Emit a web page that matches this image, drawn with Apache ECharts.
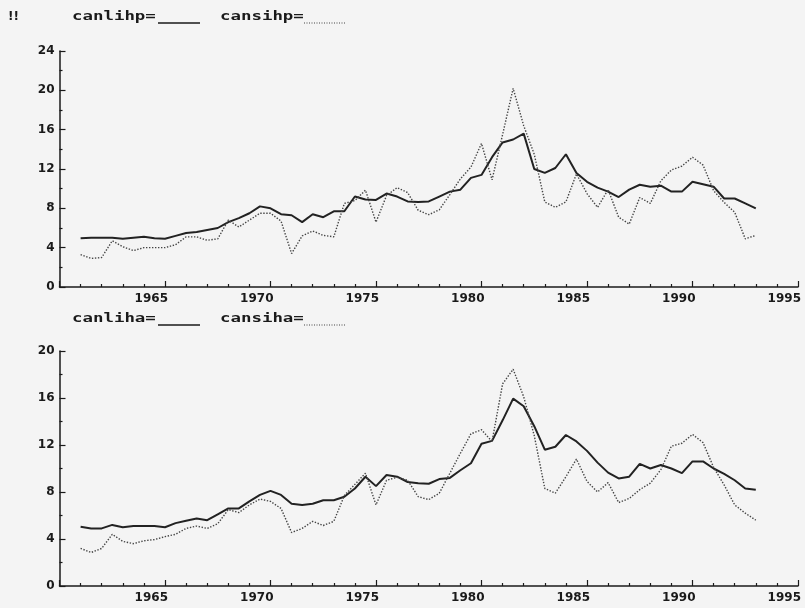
<!DOCTYPE html>
<html>
<head>
<meta charset="utf-8">
<script src="https://cdn.jsdelivr.net/npm/echarts@6/dist/echarts.min.js"></script>
<style>
  html, body { margin: 0; padding: 0; background: #f4f4f4; }
  #chart { width: 805px; height: 608px; }
</style>
</head>
<body>
<div id="chart"></div>
<script>
// half-yearly observations, 1961.0 .. 1993.0
var startYear = 1961;

// top panel
var canlihp = [4.95, 5.0, 5.0, 5.0, 4.9, 5.0, 5.1, 4.95, 4.9, 5.2,
  5.5, 5.6, 5.8, 6.0, 6.6, 7.0, 7.5, 8.2, 8.0, 7.4,
  7.3, 6.6, 7.4, 7.1, 7.7, 7.7, 9.2, 8.9, 8.85, 9.5,
  9.2, 8.7, 8.65, 8.7, 9.2, 9.7, 9.9, 11.1, 11.4, 13.2,
  14.7, 15.0, 15.6, 12.0, 11.6, 12.1, 13.5, 11.6, 10.7, 10.1,
  9.7, 9.15, 9.9, 10.4, 10.2, 10.3, 9.7, 9.7, 10.7, 10.45,
  10.2, 9.0, 9.0, 8.5, 8.0];
var cansihp = [3.3, 2.9, 3.0, 4.7, 4.1, 3.7, 4.0, 4.0, 4.0, 4.3,
  5.1, 5.1, 4.75, 4.9, 6.8, 6.1, 6.8, 7.5, 7.5, 6.7,
  3.4, 5.2, 5.7, 5.25, 5.1, 8.5, 8.8, 9.85, 6.6, 9.3,
  10.1, 9.6, 7.8, 7.35, 7.85, 9.4, 11.0, 12.2, 14.6, 10.9,
  15.5, 20.2, 16.4, 13.5, 8.65, 8.1, 8.65, 11.5, 9.5, 8.1,
  9.9, 7.1, 6.4, 9.1, 8.5, 10.8, 11.9, 12.3, 13.2, 12.4,
  9.8, 8.6, 7.6, 4.9, 5.25];

// bottom panel
var canliha = [5.05, 4.9, 4.9, 5.2, 5.0, 5.1, 5.1, 5.1, 5.0, 5.35,
  5.55, 5.75, 5.6, 6.1, 6.6, 6.6, 7.2, 7.75, 8.1, 7.75,
  7.0, 6.9, 7.0, 7.3, 7.3, 7.6, 8.3, 9.3, 8.5, 9.45,
  9.3, 8.85, 8.75, 8.7, 9.1, 9.2, 9.85, 10.45, 12.1, 12.35,
  14.1, 15.95, 15.3, 13.6, 11.6, 11.85, 12.85, 12.3, 11.5, 10.5,
  9.65, 9.15, 9.3, 10.4, 10.0, 10.3, 10.0, 9.6, 10.6, 10.6,
  10.0, 9.55, 9.0, 8.3, 8.2];
var cansiha = [3.2, 2.85, 3.2, 4.4, 3.8, 3.6, 3.85, 3.95, 4.2, 4.4,
  4.9, 5.1, 4.9, 5.3, 6.5, 6.25, 6.9, 7.4, 7.2, 6.6,
  4.55, 4.9, 5.5, 5.15, 5.5, 7.7, 8.65, 9.6, 6.9, 9.0,
  9.25, 9.0, 7.6, 7.35, 7.9, 9.6, 11.3, 12.95, 13.3, 12.3,
  17.2, 18.45, 16.1, 12.8, 8.3, 7.9, 9.3, 10.8, 8.9, 8.0,
  8.8, 7.1, 7.45, 8.2, 8.75, 9.9, 11.9, 12.15, 12.9, 12.2,
  10.1, 8.6, 6.9, 6.2, 5.6];

var yMaxTop = 24, yMaxBottom = 20, yStep = 4;
var xMin = 1960, xMax = 1995, xStep = 5;

function pairs(vals) {
  return vals.map(function (v, i) { return [startYear + i / 2, v]; });
}

var ink = '#1a1a1a';
var labelFont = { color: ink, fontFamily: 'DejaVu Sans', fontWeight: 'bold', fontSize: 12 };

function xAxisFor(idx) {
  return {
    type: 'value', gridIndex: idx, min: xMin, max: xMax, interval: xStep,
    axisLine: { lineStyle: { color: ink, width: 1.5 } },
    axisTick: { inside: true, length: 6, lineStyle: { color: ink, width: 1.2 } },
    minorTick: { show: true, splitNumber: 5, length: 3, lineStyle: { color: ink, width: 1.2 } },
    splitLine: { show: false },
    axisLabel: Object.assign({
      margin: 6, showMinLabel: false, align: 'right', padding: [0, -3, 0, 0],
      formatter: function (v) { return String(v); }
    }, labelFont)
  };
}
function yAxisFor(idx, max) {
  return {
    type: 'value', gridIndex: idx, min: 0, max: max, interval: yStep,
    axisLine: { show: true, lineStyle: { color: ink, width: 1.5 } },
    axisTick: { show: true, inside: true, length: 6, lineStyle: { color: ink, width: 1.2 } },
    minorTick: { show: true, splitNumber: 2, length: 3, lineStyle: { color: ink, width: 1.2 } },
    splitLine: { show: false },
    axisLabel: Object.assign({ margin: 5 }, labelFont)
  };
}
function solid(name, vals, idx) {
  return {
    name: name, type: 'line', xAxisIndex: idx, yAxisIndex: idx,
    data: pairs(vals), showSymbol: false, animation: false,
    lineStyle: { color: '#222', width: 2 }
  };
}
function dotted(name, vals, idx) {
  return {
    name: name, type: 'line', xAxisIndex: idx, yAxisIndex: idx,
    data: pairs(vals), showSymbol: false, animation: false,
    lineStyle: { color: '#444', width: 1.4, type: [1.4, 1.6] }
  };
}

// legend text is drawn as scaled monospace to mimic the wide plotter font
function legendRow(y, a, b) {
  var txt = { fill: ink, font: 'bold 12px "DejaVu Sans Mono"', textVerticalAlign: 'middle' };
  return [
    { type: 'text', left: 72, top: y - 7, scaleX: 1.45, style: Object.assign({ text: a }, txt) },
    { type: 'line', shape: { x1: 158, y1: y + 5, x2: 200, y2: y + 5 }, style: { stroke: ink, lineWidth: 1.5 } },
    { type: 'text', left: 220, top: y - 7, scaleX: 1.45, style: Object.assign({ text: b }, txt) },
    { type: 'line', shape: { x1: 304, y1: y + 5, x2: 346, y2: y + 5 }, style: { stroke: '#444', lineWidth: 1.2, lineDash: [1, 1.5] } }
  ];
}

var chart = echarts.init(document.getElementById('chart'));
chart.setOption({
  backgroundColor: '#f4f4f4',
  animation: false,
  grid: [
    { left: 59.5, right: 7, top: 51, height: 236 },
    { left: 59.5, right: 7, top: 351, height: 235 }
  ],
  xAxis: [xAxisFor(0), xAxisFor(1)],
  yAxis: [yAxisFor(0, yMaxTop), yAxisFor(1, yMaxBottom)],
  graphic: [
    { type: 'text', left: 8, top: 11, style: { text: '!!', fill: ink, font: 'bold 12px "DejaVu Sans"' } }
  ].concat(legendRow(18, 'canlihp=', 'cansihp='), legendRow(320, 'canliha=', 'cansiha=')),
  series: [
    solid('canlihp', canlihp, 0),
    dotted('cansihp', cansihp, 0),
    solid('canliha', canliha, 1),
    dotted('cansiha', cansiha, 1)
  ]
});
</script>
</body>
</html>
